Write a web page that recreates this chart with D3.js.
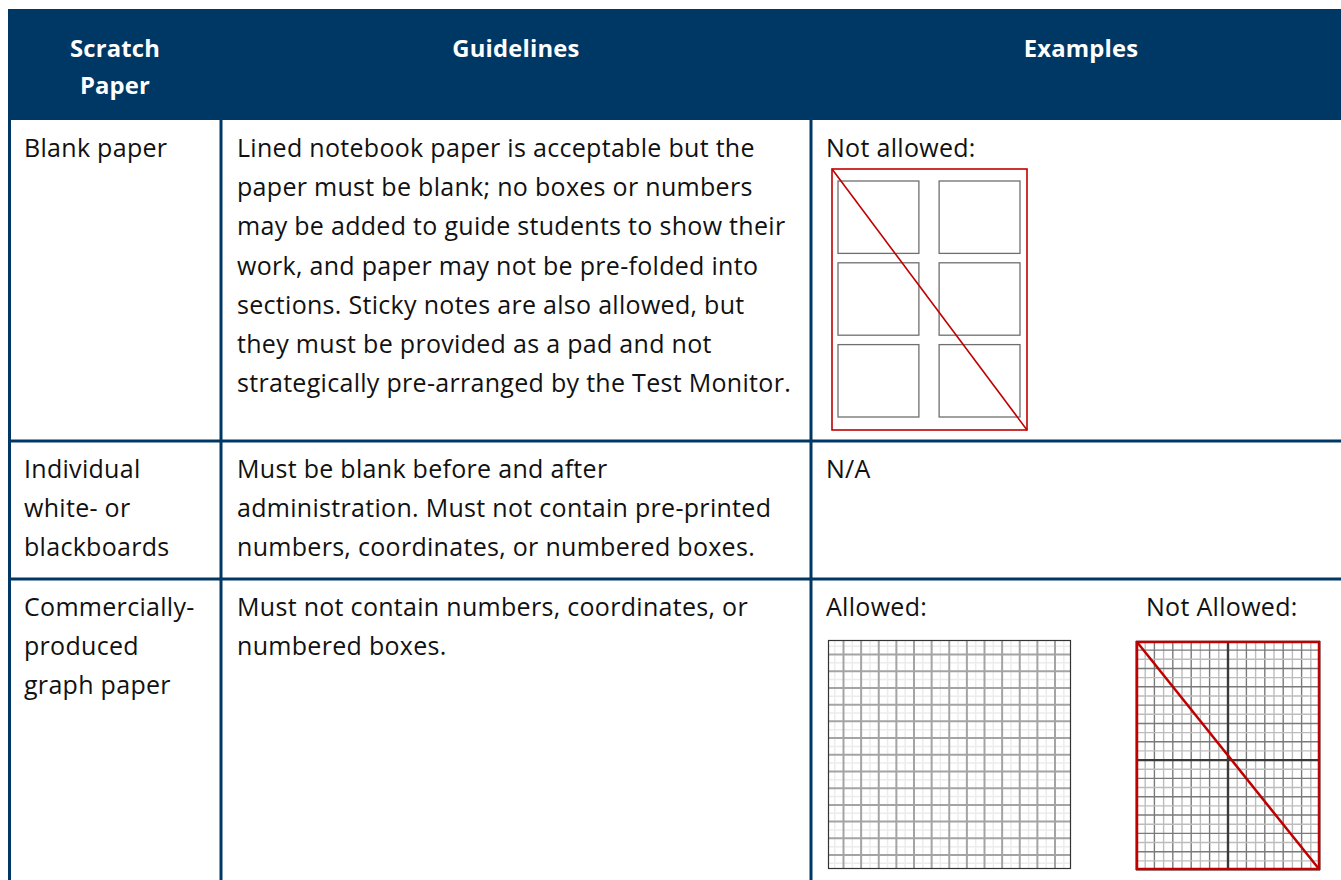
<!DOCTYPE html>
<html>
<head>
<meta charset="utf-8">
<script src="https://cdn.jsdelivr.net/npm/d3@7"></script>
<style>
  body { margin: 0; background: #fff; }
  svg { display: block; }
</style>
</head>
<body>
<div id="table_div"></div>
<script>
// table content
const headers = [["Scratch", "Paper"], ["Guidelines"], ["Examples"]];
const scratchTypes = [
  ["Blank paper"],
  ["Individual", "white- or", "blackboards"],
  ["Commercially-", "produced", "graph paper"]
];
const guidelines = [
  ["Lined notebook paper is acceptable but the",
   "paper must be blank; no boxes or numbers",
   "may be added to guide students to show their",
   "work, and paper may not be pre-folded into",
   "sections. Sticky notes are also allowed, but",
   "they must be provided as a pad and not",
   "strategically pre-arranged by the Test Monitor."],
  ["Must be blank before and after",
   "administration. Must not contain pre-printed",
   "numbers, coordinates, or numbered boxes."],
  ["Must not contain numbers, coordinates, or",
   "numbered boxes."]
];
const exampleLabels = [["Not allowed:"], ["N/A"], ["Allowed:", "Not Allowed:"]];

// layout
const W = 1341, H = 880;
const colEdges = [8, 221, 811, 1341];
const headerCenters = [115, 516, 1081]; // last column runs past the page edge
const rowEdges = [9, 120, 441, 579, 880];
const navy = "#003865", red = "#c00000";
const lineH = 39.2;

const svg = d3.select("#table_div").append("svg")
  .attr("width", W).attr("height", H)
  .style("font-family", "'Open Sans', sans-serif");

// header band
svg.append("rect")
  .attr("x", colEdges[0]).attr("y", rowEdges[0])
  .attr("width", W - colEdges[0]).attr("height", rowEdges[1] - rowEdges[0])
  .attr("fill", navy);

headers.forEach((h, i) => {
  svg.append("text")
    .attr("text-anchor", "middle")
    .attr("fill", "#fff")
    .style("font-weight", "bold").style("font-size", "23.8px")
    .style("letter-spacing", "0.2px")
    .selectAll("tspan").data(h).join("tspan")
      .attr("x", headerCenters[i])
      .attr("y", (d, j) => 57 + j * 37)
      .text(d => d);
});

// grid lines of the table body
svg.append("line")
  .attr("x1", 9.5).attr("x2", 9.5).attr("y1", rowEdges[1]).attr("y2", H)
  .attr("stroke", navy).attr("stroke-width", 3);
[colEdges[1], colEdges[2]].forEach(x => {
  svg.append("line")
    .attr("x1", x).attr("x2", x).attr("y1", rowEdges[1]).attr("y2", H)
    .attr("stroke", navy).attr("stroke-width", 3);
});
[rowEdges[2], rowEdges[3]].forEach(y => {
  svg.append("line")
    .attr("x1", 8).attr("x2", W).attr("y1", y).attr("y2", y)
    .attr("stroke", navy).attr("stroke-width", 3);
});

// body text
const textPad = [16, 16, 15];
function cellText(lines, col, row, x) {
  svg.append("text")
    .attr("fill", "#111")
    .style("font-size", "25px")
    .style("letter-spacing", "0.3px")
    .selectAll("tspan").data(lines).join("tspan")
      .attr("x", x !== undefined ? x : colEdges[col] + textPad[col])
      .attr("y", (d, j) => rowEdges[row + 1] + 37 + j * lineH)
      .text(d => d);
}
scratchTypes.forEach((t, r) => cellText(t, 0, r));
guidelines.forEach((t, r) => cellText(t, 1, r));
cellText(exampleLabels[0], 2, 0);
cellText(exampleLabels[1], 2, 1);
cellText([exampleLabels[2][0]], 2, 2);
cellText([exampleLabels[2][1]], 2, 2, 1146);

// example 1: sheet with 2x3 answer boxes, crossed out
const boxCols = [0, 1], boxRows = [0, 1, 2];
const sheet = {x0: 832, x1: 1027, y0: 169, y1: 430};
const bx = d3.scaleBand().domain(boxCols).range([838, 1020]).paddingInner(0.2);
const by = d3.scaleBand().domain(boxRows).range([181, 417]).paddingInner(0.115);
const g1 = svg.append("g");
boxRows.forEach(r => boxCols.forEach(c => {
  g1.append("rect")
    .attr("x", bx(c)).attr("y", by(r))
    .attr("width", bx.bandwidth()).attr("height", by.bandwidth())
    .attr("fill", "none").attr("stroke", "#6f6f6f").attr("stroke-width", 1.3);
}));
g1.append("rect")
  .attr("x", sheet.x0).attr("y", sheet.y0)
  .attr("width", sheet.x1 - sheet.x0).attr("height", sheet.y1 - sheet.y0)
  .attr("fill", "none").attr("stroke", red).attr("stroke-width", 1.6);
g1.append("line")
  .attr("x1", sheet.x0).attr("y1", sheet.y0).attr("x2", sheet.x1).attr("y2", sheet.y1)
  .attr("stroke", red).attr("stroke-width", 1.6);

// example 2: plain graph paper (allowed)
const gx = d3.scaleLinear().domain([1, 13]).range([843.5, 1055]);
const gy = d3.scaleLinear().domain([1, 13]).range([654.5, 855]);
const g2 = svg.append("g");
const minorA = d3.range(0.5, 14, 1), majorA = d3.range(1, 14, 1);
minorA.forEach(v => {
  g2.append("line").attr("x1", gx(v)).attr("x2", gx(v)).attr("y1", 640).attr("y2", 869)
    .attr("stroke", "#ececec").attr("stroke-width", 1.5);
  g2.append("line").attr("y1", gy(v)).attr("y2", gy(v)).attr("x1", 828).attr("x2", 1071)
    .attr("stroke", "#ececec").attr("stroke-width", 1.5);
});
majorA.forEach(v => {
  g2.append("line").attr("x1", gx(v)).attr("x2", gx(v)).attr("y1", 640).attr("y2", 869)
    .attr("stroke", "#a4a4a4").attr("stroke-width", 2);
  g2.append("line").attr("y1", gy(v)).attr("y2", gy(v)).attr("x1", 828).attr("x2", 1071)
    .attr("stroke", "#a4a4a4").attr("stroke-width", 2);
});
g2.append("rect").attr("x", 828.5).attr("y", 640.5).attr("width", 242).attr("height", 228)
  .attr("fill", "none").attr("stroke", "#333").attr("stroke-width", 1.2);

// example 3: coordinate grid (not allowed)
const cx = d3.scaleLinear().domain([-10, 10]).range([1136, 1320]);
const cy = d3.scaleLinear().domain([13, -12]).range([641, 870]);
const g3 = svg.append("g");
d3.range(-10, 11).forEach(v => {
  g3.append("line").attr("x1", cx(v)).attr("x2", cx(v)).attr("y1", 641).attr("y2", 870)
    .attr("stroke", v % 2 === 0 ? "#7a7a7a" : "#bdbdbd").attr("stroke-width", 1.4);
});
d3.range(-12, 14).forEach(v => {
  g3.append("line").attr("y1", cy(v)).attr("y2", cy(v)).attr("x1", 1136).attr("x2", 1320)
    .attr("stroke", v % 2 === 0 ? "#7a7a7a" : "#bdbdbd").attr("stroke-width", 1.4);
});
g3.append("line").attr("x1", cx(0)).attr("x2", cx(0)).attr("y1", 641).attr("y2", 870)
  .attr("stroke", "#3a3a3a").attr("stroke-width", 2.4);
g3.append("line").attr("y1", cy(0)).attr("y2", cy(0)).attr("x1", 1136).attr("x2", 1320)
  .attr("stroke", "#3a3a3a").attr("stroke-width", 2.4);
g3.append("rect").attr("x", 1137).attr("y", 642).attr("width", 182).attr("height", 227)
  .attr("fill", "none").attr("stroke", red).attr("stroke-width", 2.5);
g3.append("line").attr("x1", 1137).attr("y1", 642).attr("x2", 1319).attr("y2", 869)
  .attr("stroke", red).attr("stroke-width", 2.5);
</script>
</body>
</html>
